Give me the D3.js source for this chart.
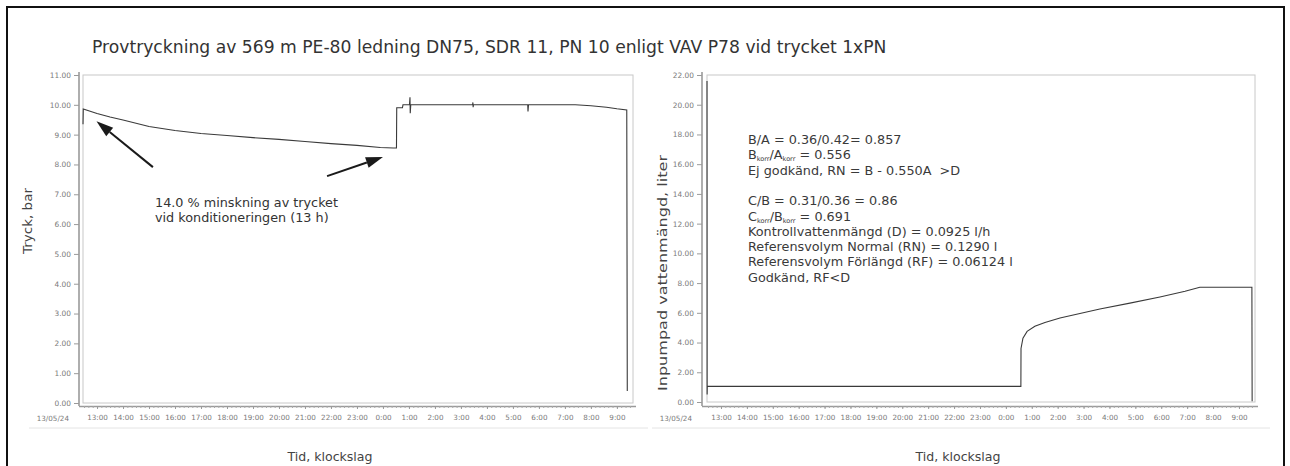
<!DOCTYPE html>
<html>
<head>
<meta charset="utf-8">
<script src="https://cdn.jsdelivr.net/npm/d3@7"></script>
<style>
  html, body { margin: 0; padding: 0; background: #fff; }
  svg { display: block; }
  text { font-family: "DejaVu Sans", Verdana, sans-serif; }
</style>
</head>
<body>
<svg id="chart" width="1290" height="466"></svg>
<script>
// Time is in hours counted from 00:00 on 13/05/24 (values above 24 are the next day).
const hourTicks = [13, 14, 15, 16, 17, 18, 19, 20, 21, 22, 23, 24, 25, 26, 27, 28, 29, 30, 31, 32, 33];
const hourLabels = ["13:00", "14:00", "15:00", "16:00", "17:00", "18:00", "19:00", "20:00", "21:00", "22:00",
                    "23:00", "0:00", "1:00", "2:00", "3:00", "4:00", "5:00", "6:00", "7:00", "8:00", "9:00"];
const dateLabel = "13/05/24";
const timeDomain = [12.46, 33.62];

// Pressure log, bar
const pressureTime = [12.46, 12.47, 13.0, 13.5, 14.0, 15.0, 16.0, 17.0, 18.0, 19.0, 20.0, 21.0, 22.0, 23.0, 23.9,
                      24.4, 24.52, 24.53, 24.75, 24.77, 25.02, 25.04, 25.05, 25.07, 26.3, 27.45, 27.46, 27.47,
                      27.48, 29.57, 29.58, 29.6, 31.4, 32.0, 32.6, 33.0, 33.38, 33.4];
const pressureValue = [9.35, 9.86, 9.71, 9.59, 9.49, 9.27, 9.14, 9.04, 8.97, 8.90, 8.84, 8.77, 8.70, 8.64, 8.57,
                       8.55, 8.55, 9.9, 9.9, 10.0, 10.0, 10.25, 9.72, 10.0, 10.0, 10.0, 10.08, 9.92,
                       10.0, 10.0, 9.78, 10.0, 10.0, 9.97, 9.92, 9.87, 9.83, 0.4];
const pressureTicks = [0, 1, 2, 3, 4, 5, 6, 7, 8, 9, 10, 11];

// Pumped-in water volume, litres
const volumeTime = [12.46, 12.465, 12.47, 24.58, 24.585, 24.66, 24.82, 25.12, 25.51, 26.09, 26.86, 27.63,
                    28.79, 29.95, 30.92, 31.49, 33.5, 33.51];
const volumeValue = [21.6, 0.5, 1.05, 1.05, 3.6, 4.3, 4.75, 5.1, 5.35, 5.65, 5.95, 6.26,
                     6.65, 7.07, 7.45, 7.72, 7.72, 0.05];
const volumeTicks = [0, 2, 4, 6, 8, 10, 12, 14, 16, 18, 20, 22];

const titleText = "Provtryckning av 569 m PE-80 ledning DN75, SDR 11, PN 10 enligt VAV P78 vid trycket 1xPN";
const noteLines = ["14.0 % minskning av trycket", "vid konditioneringen (13 h)"];

const svg = d3.select("#chart");

// outer border
svg.append("rect").attr("x", 7).attr("y", 7).attr("width", 1277).attr("height", 470)
  .attr("fill", "none").attr("stroke", "#111").attr("stroke-width", 2);

// fit a text element to a given width by adjusting its font size
function fitWidth(sel, target) {
  const n = sel.node();
  const fs = parseFloat(sel.attr("font-size"));
  const w = n.getComputedTextLength();
  sel.attr("font-size", (fs * target / w).toFixed(2));
}

const title = svg.append("text").attr("x", 92).attr("y", 53)
  .attr("font-size", 15).attr("fill", "#333").text(titleText);
fitWidth(title, 795);

function panel(cfg) {
  const g = svg.append("g");
  const x = d3.scaleLinear().domain(timeDomain).range([cfg.x0, cfg.x1]);
  const y = d3.scaleLinear().domain([0, cfg.yMax]).range([cfg.yBottom, cfg.yTop]);

  // plot frame
  g.append("rect").attr("x", cfg.x0).attr("y", cfg.yTop)
    .attr("width", cfg.x1 - cfg.x0).attr("height", cfg.yBottom - cfg.yTop)
    .attr("fill", "none").attr("stroke", "#c8c8c8").attr("stroke-width", 1);

  // y axis
  const ya = g.append("g").attr("transform", `translate(${cfg.axisX},0)`)
    .call(d3.axisLeft(y).tickValues(cfg.ticks).tickFormat(d3.format(".2f")).tickSize(5).tickSizeOuter(0));
  ya.select(".domain").attr("stroke", "#9a9a9a").attr("stroke-width", 1.6)
    .attr("d", `M0,${cfg.yTop - 3}V${cfg.axisY}`);
  ya.selectAll(".tick line").attr("stroke", "#9a9a9a");
  ya.selectAll(".tick text").attr("font-size", 7.4).attr("fill", "#7a7a7a")
    .attr("font-family", "DejaVu Sans").attr("x", -8);

  // x axis: minor ticks every 10 minutes, then hours with labels
  const minor = d3.range(Math.ceil(timeDomain[0] * 6) / 6, timeDomain[1], 1 / 6);
  const xm = g.append("g").attr("transform", `translate(0,${cfg.axisY})`)
    .call(d3.axisBottom(x).tickValues(minor).tickFormat("").tickSize(2).tickSizeOuter(0));
  xm.selectAll(".tick line").attr("stroke", "#a8a8a8");
  xm.select(".domain").attr("stroke", "#9a9a9a").attr("stroke-width", 1.4)
    .attr("d", `M${cfg.axisX},0.5H${cfg.x1 + 3}`);

  const xa = g.append("g").attr("transform", `translate(0,${cfg.axisY})`)
    .call(d3.axisBottom(x).tickValues(hourTicks).tickFormat((d, i) => hourLabels[i]).tickSize(3).tickSizeOuter(0));
  xa.select(".domain").remove();
  xa.selectAll(".tick line").attr("stroke", "#9a9a9a");
  xa.selectAll(".tick text").attr("font-size", 7.2).attr("fill", "#7a7a7a")
    .attr("font-family", "DejaVu Sans").attr("y", 9);

  g.append("text").attr("x", cfg.axisX - 10).attr("y", cfg.axisY + 15)
    .attr("text-anchor", "end").attr("font-size", 7.2).attr("fill", "#7a7a7a").text(dateLabel);

  // faint rule under the time labels
  g.append("line").attr("x1", cfg.axisX - 50).attr("x2", cfg.x1 + 15)
    .attr("y1", cfg.axisY + 22).attr("y2", cfg.axisY + 22)
    .attr("stroke", "#e4e4e4").attr("stroke-width", 1);

  // axis titles (the vertical one is drawn stretched along its length)
  g.append("text").attr("transform", `translate(${cfg.yTitleX},${cfg.yTitleY}) rotate(-90)`)
    .attr("text-anchor", "middle").attr("font-size", 11.5).attr("fill", "#444")
    .attr("textLength", cfg.yTitleLen).attr("lengthAdjust", "spacingAndGlyphs").text(cfg.yTitle);
  const xt = g.append("text").attr("x", cfg.xTitleX).attr("y", 461)
    .attr("text-anchor", "middle").attr("font-size", 11.5).attr("fill", "#444").text("Tid, klockslag");
  fitWidth(xt, 85);

  // data line
  const pts = cfg.times.map((t, i) => [t, cfg.values[i]]);
  g.append("path").datum(pts)
    .attr("d", d3.line().x(d => x(d[0])).y(d => y(d[1])))
    .attr("fill", "none").attr("stroke", "#3a3a3a").attr("stroke-width", 1.1);

  return { g, x, y };
}

const left = panel({
  x0: 83, x1: 633, axisX: 79, axisY: 406, yTop: 75, yBottom: 403, yMax: 11,
  ticks: pressureTicks, times: pressureTime, values: pressureValue,
  yTitle: "Tryck, bar", yTitleX: 32, yTitleY: 221, yTitleLen: 66, xTitleX: 330
});

const right = panel({
  x0: 707, x1: 1255, axisX: 702, axisY: 406, yTop: 75, yBottom: 402, yMax: 22,
  ticks: volumeTicks, times: volumeTime, values: volumeValue,
  yTitle: "Inpumpad vattenmängd, liter", yTitleX: 667, yTitleY: 273, yTitleLen: 236, xTitleX: 958
});

// arrows pointing at the start and end of the conditioning period
const arrows = [
  { from: [15.15, 7.91], to: [12.98, 9.45] },
  { from: [21.85, 7.61], to: [24.0, 8.25] }
];
arrows.forEach(a => {
  const x1 = left.x(a.from[0]), y1 = left.y(a.from[1]);
  const x2 = left.x(a.to[0]), y2 = left.y(a.to[1]);
  const ang = Math.atan2(y2 - y1, x2 - x1);
  const headLen = 17, headHalf = 5.5;
  const bx = x2 - headLen * Math.cos(ang), by = y2 - headLen * Math.sin(ang);
  svg.append("line").attr("x1", x1).attr("y1", y1).attr("x2", bx).attr("y2", by)
    .attr("stroke", "#1a1a1a").attr("stroke-width", 2);
  const px = -Math.sin(ang) * headHalf, py = Math.cos(ang) * headHalf;
  svg.append("path")
    .attr("d", `M${x2},${y2}L${bx + px},${by + py}L${bx - px},${by - py}Z`)
    .attr("fill", "#1a1a1a");
});

// note under the arrows
noteLines.forEach((s, i) => {
  const t = svg.append("text").attr("x", 155).attr("y", 207 + i * 15)
    .attr("font-size", 11.3).attr("fill", "#333").text(s);
  if (i === 0) fitWidth(t, 183);
  else t.attr("font-size", svg.select("text:last-of-type").attr("font-size"));
});
{
  const ts = svg.selectAll("text").filter(function () { return noteLines.includes(this.textContent); });
  const fs = d3.select(ts.nodes()[0]).attr("font-size");
  ts.attr("font-size", fs);
}

// evaluation summary in the volume panel
const summary = [
  { i: 0, parts: [["B/A = 0.36/0.42= 0.857"]] },
  { i: 1, parts: [["B"], ["korr", "sub"], ["/A"], ["korr", "sub"], [" = 0.556"]] },
  { i: 2, parts: [["Ej godkänd, RN = B - 0.550A  >D"]] },
  { i: 4, parts: [["C/B = 0.31/0.36 = 0.86"]] },
  { i: 5, parts: [["C"], ["korr", "sub"], ["/B"], ["korr", "sub"], [" = 0.691"]] },
  { i: 6, parts: [["Kontrollvattenmängd (D) = 0.0925 l/h"]] },
  { i: 7, parts: [["Referensvolym Normal (RN) = 0.1290 l"]] },
  { i: 8, parts: [["Referensvolym Förlängd (RF) = 0.06124 l"]] },
  { i: 9, parts: [["Godkänd, RF<D"]] }
];
summary.forEach(line => {
  const t = svg.append("text").attr("x", 748).attr("y", 144 + line.i * 15.3)
    .attr("font-size", 12.8).attr("fill", "#3a3a3a").attr("xml:space", "preserve");
  let sub = false;
  line.parts.forEach(p => {
    const ts = t.append("tspan").text(p[0]);
    if (p[1] === "sub") { ts.attr("font-size", 6.5).attr("dy", 2); sub = true; }
    else if (sub) { ts.attr("dy", -2); sub = false; }
  });
});
</script>
</body>
</html>
